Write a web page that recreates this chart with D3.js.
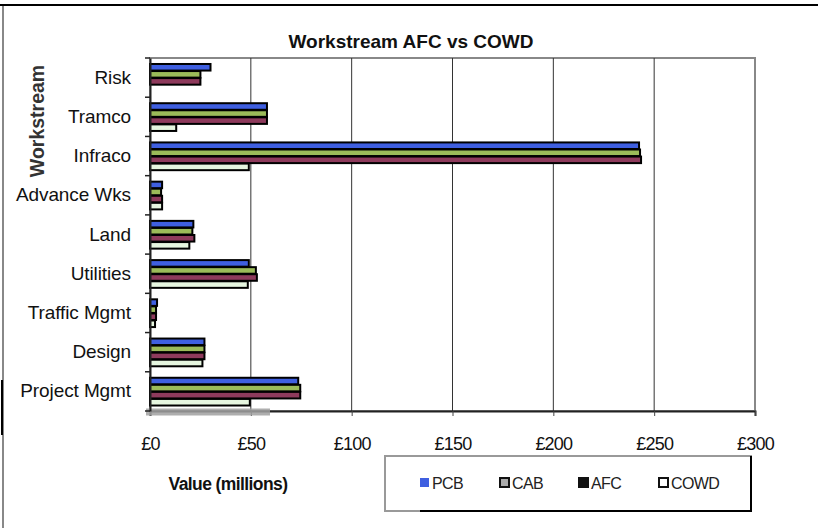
<!DOCTYPE html>
<html>
<head>
<meta charset="utf-8">
<script src="https://cdn.jsdelivr.net/npm/d3@7"></script>
<style>
  body { margin:0; background:#fff; }
  text { font-family: "Liberation Sans", Arial, sans-serif; }
</style>
</head>
<body>
<svg id="chart" width="818" height="528"></svg>
<script>
const categories = ["Risk","Tramco","Infraco","Advance Wks","Land","Utilities","Traffic Mgmt","Design","Project Mgmt"];
const seriesNames = ["PCB","CAB","AFC","COWD"];
const pcb  = [30, 58, 242.5, 6, 21.5, 49, 3.5, 27, 73.5];
const cab  = [25, 58, 243, 5.5, 21, 52.5, 3, 27, 74.5];
const afc  = [25, 58, 243.5, 6, 22, 53, 3, 27, 74.5];
const cowd = [0, 13, 49, 6, 19.5, 48.5, 2.5, 26, 49.5];
const seriesValues = [pcb, cab, afc, cowd];
const xTicks = [0, 50, 100, 150, 200, 250, 300];
const xTickLabels = ["£0","£50","£100","£150","£200","£250","£300"];
const colors = ["#3f5fe0", "#9bbb59", "#8e3a5c", "#e6f6e0"];

const svg = d3.select("#chart");

// outer frame
svg.append("line").attr("x1",0).attr("x2",818).attr("y1",5).attr("y2",5).attr("stroke","#000").attr("stroke-width",2);
svg.append("line").attr("x1",3).attr("x2",3).attr("y1",6).attr("y2",528).attr("stroke","#888").attr("stroke-width",2);
svg.append("line").attr("x1",2).attr("x2",2).attr("y1",380).attr("y2",435).attr("stroke","#000").attr("stroke-width",2);

const pLeft = 150, pRight = 755, pTop = 58, pBottom = 411;
const x = d3.scaleLinear().domain([0,300]).range([pLeft,pRight]);
const y0 = d3.scaleBand().domain(categories).range([pTop,pBottom]).paddingInner(0.28).paddingOuter(0.14);
const y1 = d3.scaleBand().domain(seriesNames).range([0,y0.bandwidth()]);

// plot border
svg.append("rect").attr("x",pLeft).attr("y",pTop).attr("width",pRight-pLeft).attr("height",pBottom-pTop)
  .attr("fill","none").attr("stroke","#888").attr("stroke-width",2);

// gridlines
svg.append("g").selectAll("line").data(xTicks.filter(d=>d>0 && d<300)).join("line")
  .attr("x1",d=>x(d)).attr("x2",d=>x(d)).attr("y1",pTop).attr("y2",pBottom)
  .attr("stroke","#333").attr("stroke-width",1);

// bars
const rows = [];
categories.forEach((c,i)=>seriesNames.forEach((s,j)=>rows.push({c, s, j, v: seriesValues[j][i]})));
svg.append("g").selectAll("rect").data(rows.filter(d=>d.v>0)).join("rect")
  .attr("x", x(0))
  .attr("y", d=>y0(d.c)+y1(d.s)+0.5)
  .attr("width", d=>x(d.v)-x(0))
  .attr("height", y1.bandwidth()-0.5)
  .attr("fill", d=>colors[d.j])
  .attr("stroke","#000").attr("stroke-width",2);

// x axis
const xAxis = d3.axisBottom(x).tickValues(xTicks).tickFormat((d,i)=>xTickLabels[i]).tickSize(5).tickPadding(21);
const gx = svg.append("g").attr("transform",`translate(0,${pBottom})`).call(xAxis);
gx.select(".domain").attr("stroke","#222").attr("stroke-width",2);
gx.selectAll(".tick line").attr("stroke","#444");
gx.selectAll("text").attr("font-size",18).attr("fill","#111").attr("letter-spacing","-0.8");

// grey smear over the lower-left of the axis
svg.append("line").attr("x1",146).attr("x2",270).attr("y1",412).attr("y2",412)
  .attr("stroke","#a0a0a0").attr("stroke-width",7).attr("opacity",0.85);

// y axis
const yAxis = d3.axisLeft(y0).tickSize(0).tickPadding(19);
const gy = svg.append("g").attr("transform",`translate(${pLeft},0)`).call(yAxis);
gy.select(".domain").attr("stroke","#222").attr("stroke-width",2);
gy.selectAll("text").attr("font-size",19).attr("fill","#111").attr("letter-spacing","-0.1");
// category boundary ticks
const bounds = d3.range(categories.length+1).map(i=>pTop + i*y0.step());
svg.append("g").selectAll("line").data(bounds).join("line")
  .attr("x1",pLeft-5).attr("x2",pLeft).attr("y1",d=>d).attr("y2",d=>d)
  .attr("stroke","#222").attr("stroke-width",1.5);

// title
svg.append("text").attr("x",411).attr("y",48).attr("text-anchor","middle")
  .attr("font-size",19).attr("font-weight","bold").attr("fill","#111").text("Workstream AFC vs COWD");

// y title
svg.append("text").attr("transform","translate(44,121) rotate(-90)").attr("text-anchor","middle")
  .attr("font-size",19.5).attr("font-weight","bold").attr("fill","#333").text("Workstream");

// x title
svg.append("text").attr("x",228).attr("y",490).attr("text-anchor","middle")
  .attr("font-size",17.5).attr("font-weight","bold").attr("fill","#111").attr("letter-spacing","-0.6").text("Value (millions)");

// legend
const lg = svg.append("g");
lg.append("rect").attr("x",385).attr("y",456).attr("width",366).attr("height",55)
  .attr("fill","#fff").attr("stroke","#999").attr("stroke-width",2);
lg.append("line").attr("x1",420).attr("x2",752).attr("y1",511).attr("y2",511).attr("stroke","#000").attr("stroke-width",2);
lg.append("line").attr("x1",751).attr("x2",751).attr("y1",456).attr("y2",512).attr("stroke","#000").attr("stroke-width",2);
const legendX = [420, 500, 579, 659];
const markerFill = [colors[0], "#aaa", "#111", "#fff"];
const li = lg.selectAll("g.item").data(seriesNames).join("g").attr("class","item")
  .attr("transform",(d,i)=>`translate(${legendX[i]},483)`);
li.append("rect").attr("x",0).attr("y",-5).attr("width",9).attr("height",9)
  .attr("fill",(d,i)=>markerFill[i]).attr("stroke",(d,i)=>i===0?"none":"#111").attr("stroke-width",2);
li.append("text").attr("x",12).attr("y",6).attr("font-size",16).attr("fill","#222").attr("letter-spacing","-0.6").text(d=>d);
</script>
</body>
</html>
